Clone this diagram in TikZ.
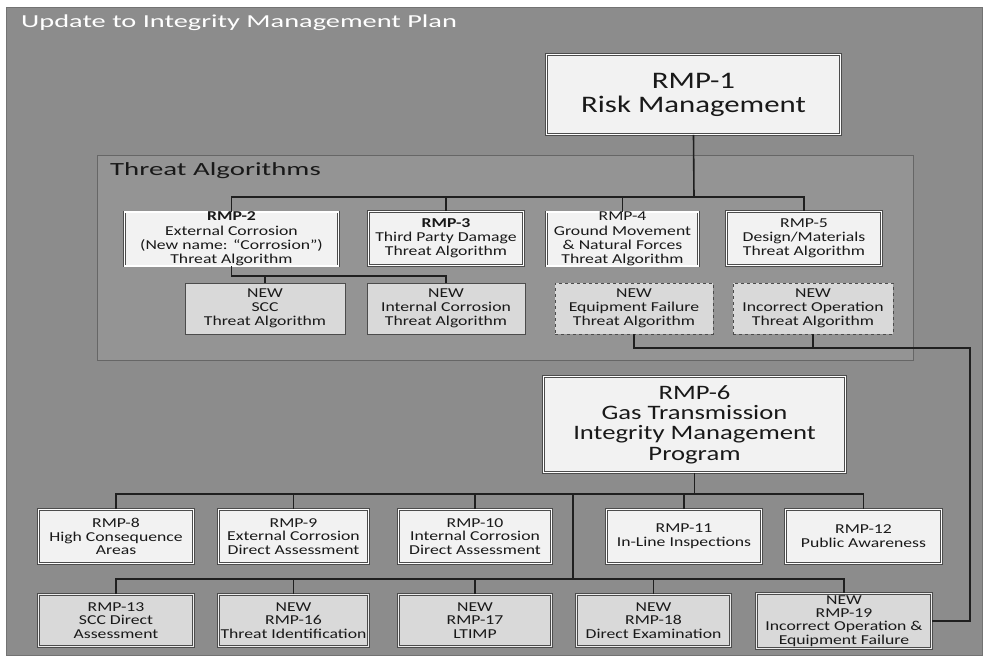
\documentclass[tikz,border=0pt]{standalone}
\usepackage{fontspec}
\setmainfont{Carlito}[FakeStretch=1.3]
\newfontfamily\widefont{Carlito}[FakeStretch=1.55]
\definecolor{bgray}{gray}{0.55}
\definecolor{cgray}{gray}{0.58}
\definecolor{wfill}{gray}{0.95}
\definecolor{gfill}{gray}{0.85}
\begin{document}
\begin{tikzpicture}[x=1pt,y=-1pt,
  conn/.style={draw=black!88, line width=1.6pt},
  basebox/.style={rectangle, inner sep=0pt, align=center, text=black!90, font=\fontsize{13.6}{13.8}\selectfont},
  wbox/.style={basebox, draw=black!70, line width=0.7pt, double=white, double distance=1.5pt, fill=wfill},
  gbox/.style={basebox, draw=black!70, line width=0.7pt, double=white!85!gray, double distance=1.5pt, fill=gfill},
  nbox/.style={basebox, draw=black!70, line width=0.8pt, fill=gfill},
  dbox/.style={nbox, dashed},
  sz/.style 2 args={minimum width=#1pt, minimum height=#2pt},
  szd/.style 2 args={minimum width={#1pt-3pt}, minimum height={#2pt-3pt}},
]
% page and background
\path[use as bounding box, fill=white] (0,0) rectangle (988,660);
\node[draw=black!55, fill=bgray, inner sep=0pt, anchor=north west, sz={976}{648}] (frame) at (6,7) {};
\node[anchor=west, text=white, inner sep=0pt, font=\widefont\fontsize{18.3}{20}\selectfont] (title) at (21,23) {Update to Integrity Management Plan};

% Threat Algorithms container
\node[draw=black!60, fill=cgray, inner sep=0pt, anchor=north west, sz={816}{205}] (ta) at (97,155) {};
\node[anchor=west, text=black!90, inner sep=0pt, font=\widefont\fontsize{18.6}{20}\selectfont] (talabel) at (110,171) {Threat Algorithms};

% boxes
\node[wbox, szd={297}{83}, font=\fontsize{23.7}{24}\selectfont] (rmp1) at (693.5,94.5) {RMP-1\\Risk Management};

\node[wbox, szd={217}{57}, font=\fontsize{13.6}{14.2}\selectfont] (rmp2) at (231.5,239) {\textbf{RMP-2}\\External Corrosion\\(New name: “Corrosion”)\\Threat Algorithm};
\node[wbox, szd={158}{57}] (rmp3) at (446,238.5) {\textbf{RMP-3}\\Third Party Damage\\Threat Algorithm};
\node[wbox, szd={155}{57}, font=\fontsize{13.6}{14.2}\selectfont] (rmp4) at (622.5,239) {RMP-4\\Ground Movement\\\& Natural Forces\\Threat Algorithm};
\node[wbox, szd={158}{57}] (rmp5) at (804,238.5) {RMP-5\\Design/Materials\\Threat Algorithm};

\node[nbox, sz={160}{51}] (scc) at (265,308.5) {NEW\\SCC\\Threat Algorithm};
\node[nbox, sz={158}{51}] (ic) at (446,308.5) {NEW\\Internal Corrosion\\Threat Algorithm};
\node[dbox, sz={158}{51}] (eq) at (634,308.5) {NEW\\Equipment Failure\\Threat Algorithm};
\node[dbox, sz={160}{51}] (io) at (813,308.5) {NEW\\Incorrect Operation\\Threat Algorithm};

\node[wbox, szd={305}{99}, font=\fontsize{20.5}{20.3}\selectfont] (rmp6) at (694.5,424.5) {RMP-6\\Gas Transmission\\Integrity Management\\Program};

\node[wbox, szd={158}{57}] (rmp8) at (116,536.5) {RMP-8\\High Consequence\\Areas};
\node[wbox, szd={153}{57}] (rmp9) at (293.5,536.5) {RMP-9\\External Corrosion\\Direct Assessment};
\node[wbox, szd={156}{57}] (rmp10) at (475,536.5) {RMP-10\\Internal Corrosion\\Direct Assessment};
\node[wbox, szd={158}{57}] (rmp11) at (684,536.5) {RMP-11\\In-Line Inspections};
\node[wbox, szd={159}{57}] (rmp12) at (863.5,536.5) {RMP-12\\Public Awareness};

\node[gbox, szd={158}{55}] (rmp13) at (116,620.5) {RMP-13\\SCC Direct\\Assessment};
\node[gbox, szd={153}{55}] (rmp16) at (293.5,620.5) {NEW\\RMP-16\\Threat Identification};
\node[gbox, szd={156}{55}] (rmp17) at (475,620.5) {NEW\\RMP-17\\LTIMP};
\node[gbox, szd={157}{55}] (rmp18) at (653.5,620.5) {NEW\\RMP-18\\Direct Examination};
\node[gbox, szd={178}{58}, font=\fontsize{13.6}{13.3}\selectfont] (rmp19) at (844,621) {NEW\\RMP-19\\Incorrect Operation \&\\Equipment Failure};

% bus coordinates
\coordinate (b1) at (694,197);
\coordinate (b2) at (232,276);
\coordinate (b3) at (634,348);
\coordinate (rc) at (970,348);
\coordinate (b4) at (694,494);
\coordinate (br) at (573,494);
\coordinate (b5) at (573,579);

% connectors
\draw[conn] (rmp1.south) -- (b1);
\draw[conn] (rmp2.north) -- (rmp2.north |- b1) -| (rmp5.north);
\draw[conn] (rmp3.north) -- (rmp3.north |- b1);
\draw[conn] (rmp4.north) -- (rmp4.north |- b1);

\draw[conn] (rmp2.south) -- (rmp2.south |- b2) -| (ic.north);
\draw[conn] (scc.north) -- (scc.north |- b2);

\draw[conn] (eq.south) -- (eq.south |- b3) -- (rc) |- (rmp19.east);
\draw[conn] (io.south) -- (io.south |- b3);

\draw[conn] (rmp6.south) -- (rmp6.south |- b4);
\draw[conn] (rmp8.north) -- (rmp8.north |- b4) -| (rmp12.north);
\draw[conn] (rmp9.north) -- (rmp9.north |- b4);
\draw[conn] (rmp10.north) -- (rmp10.north |- b4);
\draw[conn] (rmp11.north) -- (rmp11.north |- b4);

\draw[conn] (br) -- (b5);
\draw[conn] (rmp13.north) -- (rmp13.north |- b5) -| (rmp19.north);
\draw[conn] (rmp16.north) -- (rmp16.north |- b5);
\draw[conn] (rmp17.north) -- (rmp17.north |- b5);
\draw[conn] (rmp18.north) -- (rmp18.north |- b5);
\end{tikzpicture}
\end{document}
